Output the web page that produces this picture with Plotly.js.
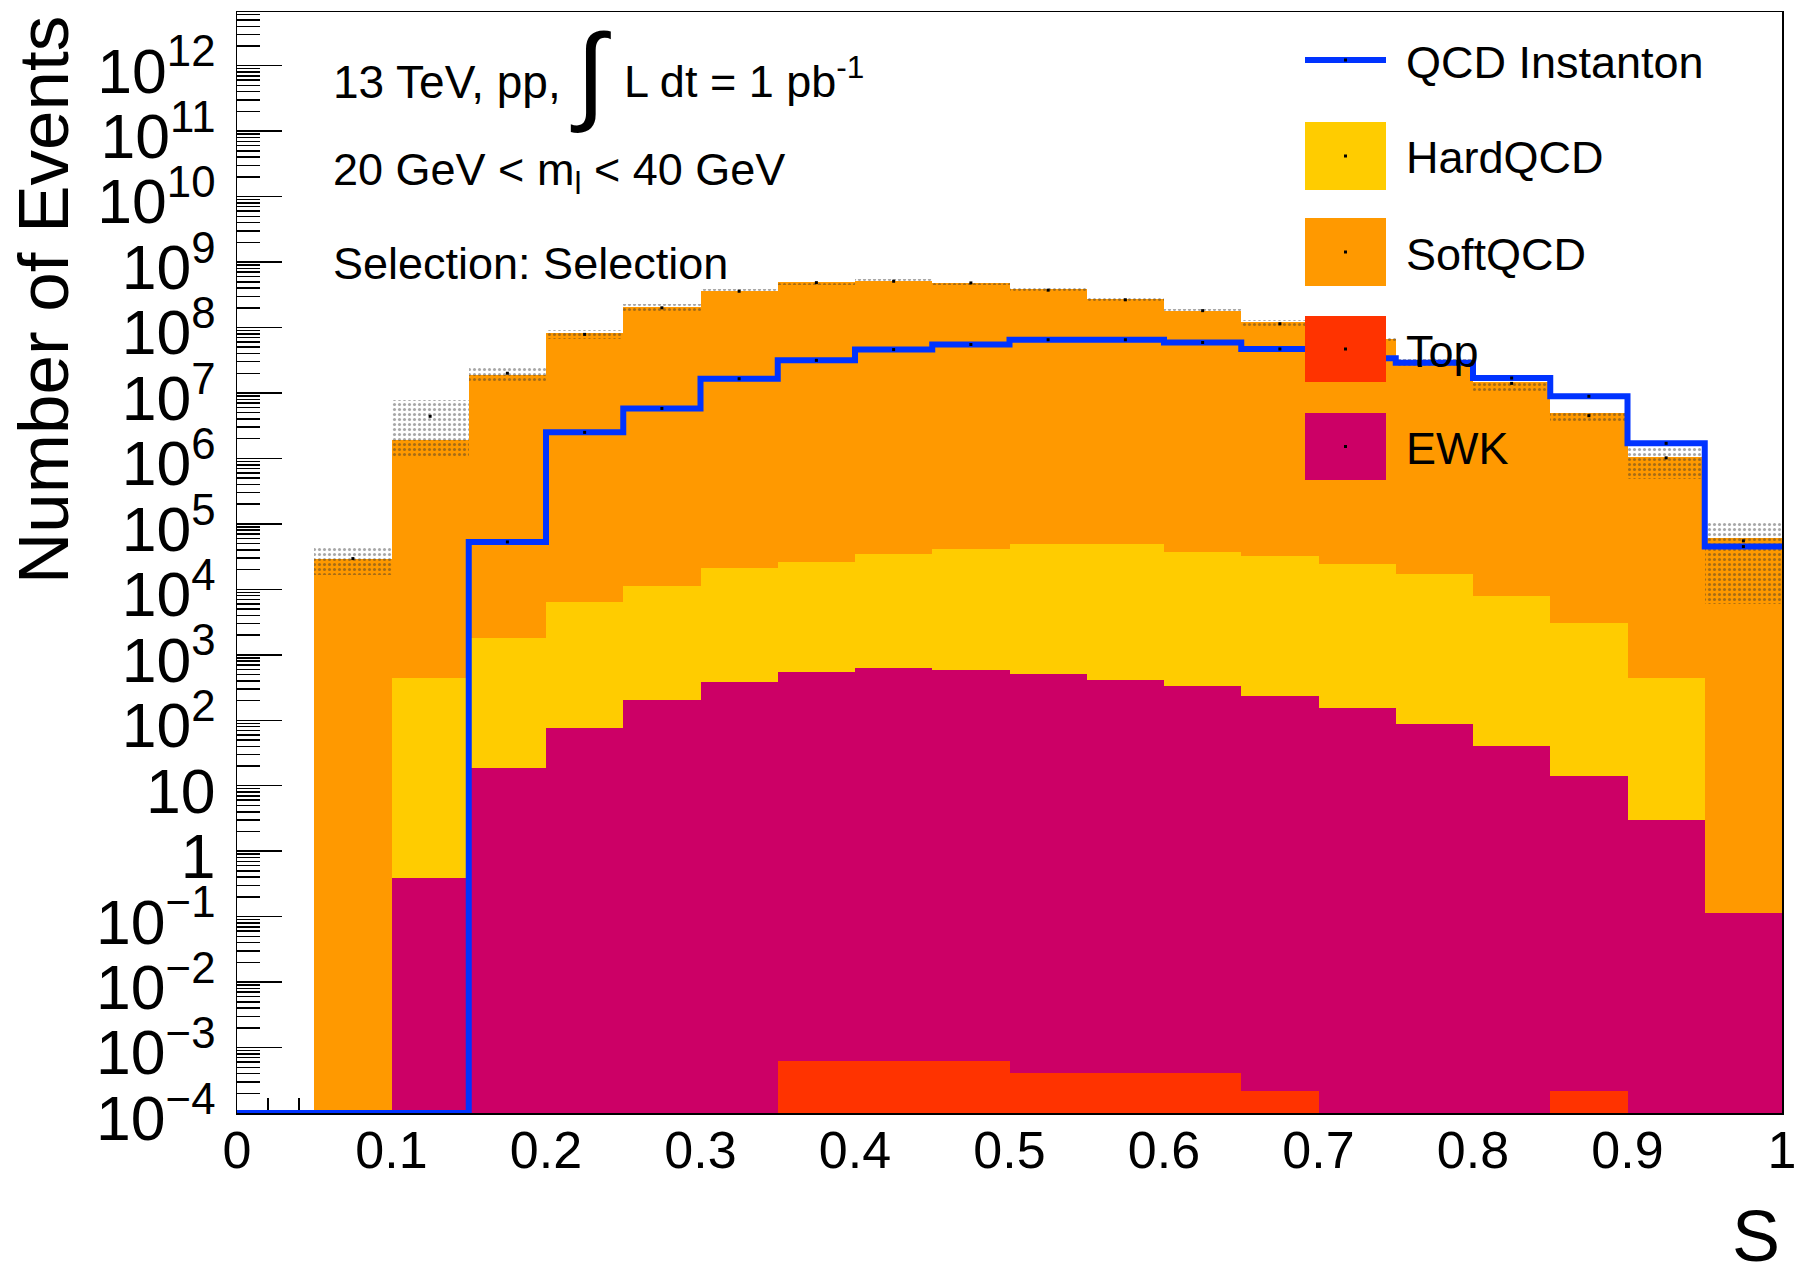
<!DOCTYPE html>
<html>
<head>
<meta charset="utf-8">
<script src="https://cdn.plot.ly/plotly-3.0.1.min.js"></script>
<style>
html,body{margin:0;padding:0;background:#ffffff;}
#chart{width:1796px;height:1267px;}
</style>
</head>
<body>
<div id="chart"></div>
<script>
// ---------------- data ----------------
const binEdges = [0, 0.05, 0.1, 0.15, 0.2, 0.25, 0.3, 0.35, 0.4, 0.45, 0.5,
                  0.55, 0.6, 0.65, 0.7, 0.75, 0.8, 0.85, 0.9, 0.95, 1.0];

const softQCD = [0, 2.9e4, 1.9e6, 1.9e7, 8.3e7, 2.07e8, 3.65e8, 4.9e8, 5.1e8, 4.8e8,
                 3.83e8, 2.7e8, 1.8e8, 1.2e8, 6.7e7, 2.8e7, 1.45e7, 5.0e6, 1.06e6, 6.0e4];

const hardQCD = [0, 0, 437, 1770, 6230, 10900, 20600, 25500, 34400, 41400,
                 48500, 48600, 36500, 31700, 23900, 16800, 7760, 3090, 434, 0];

const ewk = [0, 0, 0.385, 18.4, 75, 202, 380, 540, 621, 586,
             506, 408, 333, 232, 152, 87, 40, 13.9, 2.96, 0.115];

const topQ = [0, 0, 0, 0, 0, 0, 0, 6.3e-4, 6.3e-4, 6.3e-4,
              4.1e-4, 4.1e-4, 4.1e-4, 2.2e-4, 0, 0, 0, 2.2e-4, 0, 0];

const instanton = [0, 0, 0, 5.3e4, 2.5e6, 5.8e6, 1.65e7, 3.15e7, 4.6e7, 5.5e7,
                   6.5e7, 6.5e7, 5.9e7, 4.7e7, 3.4e7, 2.9e7, 1.69e7, 8.9e6, 1.7e6, 4.5e4];

const totalSum = [0, 2.95e4, 4.4e6, 2.0e7, 7.85e7, 2.0e8, 3.58e8, 4.85e8, 5.09e8, 4.8e8,
                  3.72e8, 2.65e8, 1.81e8, 1.14e8, 6.4e7, 2.9e7, 1.4e7, 4.5e6, 1.02e6, 5.5e4];

const totalErr = [0, 1.3e4, 3.4e6, 4.8e6, 1.25e7, 2.8e7, 2.6e7, 3.4e7, 3.6e7, 2.9e7,
                  2.8e7, 2.0e7, 1.3e7, 1.4e7, 7.0e6, 4.0e6, 3.7e6, 8.6e5, 5.3e5, 4.9e4];

const xTickLabels = ["0", "0.1", "0.2", "0.3", "0.4", "0.5", "0.6", "0.7", "0.8", "0.9", "1"];

// ---------------- styling ----------------
const FONT = 'Liberation Sans, Arial, Helvetica, sans-serif';
const C_SOFT = '#ff9900', C_HARD = '#ffcc00', C_TOP = '#ff3300', C_EWK = '#cc0066', C_INST = '#0033ff';
const Y_LOG_MIN = -4, Y_LOG_MAX = 12.82;

// plot-area geometry (px) used only for legend / text placement
const ML = 237, MR = 14, MT = 12, MB = 154, W = 1796, H = 1267;
const PW = W - ML - MR, PH = H - MT - MB;
const PX = x => (x - ML) / PW;
const PY = y => 1 - (y - MT) / PH;

// ---------------- derived ----------------
const nb = binEdges.length - 1;
const centers = [], widths = [];
for (let i = 0; i < nb; i++) { centers.push((binEdges[i] + binEdges[i+1]) / 2); widths.push(binEdges[i+1] - binEdges[i]); }
const cumTop = [], cumEwk = [], cumHard = [], cumSoft = [];
for (let i = 0; i < nb; i++) {
  const a = topQ[i], b = a + ewk[i], c = b + hardQCD[i], d = c + softQCD[i];
  cumTop.push(a > 0 ? a : null); cumEwk.push(b > 0 ? b : null);
  cumHard.push(c > 0 ? c : null); cumSoft.push(d > 0 ? d : null);
}
const bandBase = totalSum.map((v, i) => v > 0 ? v - totalErr[i] : null);
const bandH = totalSum.map((v, i) => v > 0 ? 2 * totalErr[i] : null);

const yFloor = Math.pow(10, Y_LOG_MIN);
const stepX = binEdges.slice();
const stepY = instanton.map(v => Math.max(v, yFloor)); stepY.push(stepY[stepY.length - 1]);

const barCommon = {type: 'bar', x: centers, width: widths, hoverinfo: 'skip', marker: {line: {width: 0}}};

const traces = [
  Object.assign({}, barCommon, {name: 'SoftQCD', y: cumSoft, marker: {color: C_SOFT, line: {width: 0}}}),
  Object.assign({}, barCommon, {name: 'HardQCD', y: cumHard, marker: {color: C_HARD, line: {width: 0}}}),
  Object.assign({}, barCommon, {name: 'EWK', y: cumEwk, marker: {color: C_EWK, line: {width: 0}}}),
  Object.assign({}, barCommon, {name: 'Top', y: cumTop, marker: {color: C_TOP, line: {width: 0}}}),
  Object.assign({}, barCommon, {name: 'stat. unc.', y: bandH, base: bandBase,
     marker: {color: 'rgba(0,0,0,0)', line: {width: 0},
              pattern: {shape: '.', fgcolor: 'rgba(50,50,50,0.85)', bgcolor: 'rgba(0,0,0,0)', size: 5, solidity: 0.3, fillmode: 'overlay'}}}),
  {type: 'scatter', mode: 'lines', name: 'QCD Instanton', x: stepX, y: stepY,
   line: {shape: 'hv', color: C_INST, width: 6}, cliponaxis: false, hoverinfo: 'skip'},
  {type: 'scatter', mode: 'markers', x: centers.filter((c, i) => totalSum[i] > 0), y: totalSum.filter(v => v > 0),
   marker: {symbol: 'square', size: 3, color: 'black'}, hoverinfo: 'skip'},
  {type: 'scatter', mode: 'markers', x: centers.filter((c, i) => instanton[i] > 0), y: instanton.filter(v => v > 0),
   marker: {symbol: 'square', size: 3, color: 'black'}, hoverinfo: 'skip'}
];

// ---------------- legend (drawn like the ROOT TLegend) ----------------
const legendEntries = [
  {label: 'QCD Instanton', kind: 'line', color: C_INST, yc: 60},
  {label: 'HardQCD', kind: 'box', color: C_HARD, y0: 122, y1: 190},
  {label: 'SoftQCD', kind: 'box', color: C_SOFT, y0: 218, y1: 286},
  {label: 'Top', kind: 'box', color: C_TOP, y0: 316, y1: 382},
  {label: 'EWK', kind: 'box', color: C_EWK, y0: 413, y1: 480}
];
const shapes = [], annotations = [];
const LX0 = 1305, LX1 = 1386, LTX = 1404;
legendEntries.forEach(e => {
  let yc;
  if (e.kind === 'line') {
    yc = e.yc;
    shapes.push({type: 'line', xref: 'paper', yref: 'paper', layer: 'above',
      x0: PX(LX0), x1: PX(LX1), y0: PY(yc), y1: PY(yc), line: {color: e.color, width: 6}});
  } else {
    yc = (e.y0 + e.y1) / 2;
    shapes.push({type: 'rect', xref: 'paper', yref: 'paper', layer: 'above',
      x0: PX(LX0), x1: PX(LX1), y0: PY(e.y1), y1: PY(e.y0), fillcolor: e.color, line: {width: 0}});
  }
  const cx = (LX0 + LX1) / 2;
  shapes.push({type: 'rect', xref: 'paper', yref: 'paper', layer: 'above',
    x0: PX(cx - 1.5), x1: PX(cx + 1.5), y0: PY(yc + 1.5), y1: PY(yc - 1.5), fillcolor: 'black', line: {width: 0}});
  annotations.push({text: e.label, xref: 'paper', yref: 'paper', x: PX(LTX), y: PY(yc + 2),
    xanchor: 'left', yanchor: 'middle', showarrow: false, font: {family: FONT, size: 45, color: 'black'}});
});

// ---------------- text ----------------
annotations.push(
  {text: '13 TeV, pp,', xref: 'paper', yref: 'paper', x: PX(331), y: PY(82), xanchor: 'left', yanchor: 'middle',
   showarrow: false, font: {family: FONT, size: 46, color: 'black'}},
  {text: '\u222B', xref: 'paper', yref: 'paper', x: PX(590), y: PY(72), xanchor: 'center', yanchor: 'middle',
   showarrow: false, font: {family: FONT, size: 108, color: 'black'}},
  {text: 'L dt = 1 pb<sup>-1</sup>', xref: 'paper', yref: 'paper', x: PX(622), y: PY(108.5), xanchor: 'left', yanchor: 'bottom',
   showarrow: false, font: {family: FONT, size: 45, color: 'black'}},
  {text: '20 GeV < m<sub>l</sub> < 40 GeV', xref: 'paper', yref: 'paper', x: PX(331), y: PY(142), xanchor: 'left', yanchor: 'top',
   showarrow: false, font: {family: FONT, size: 45, color: 'black'}},
  {text: 'Selection: Selection', xref: 'paper', yref: 'paper', x: PX(331), y: PY(263), xanchor: 'left', yanchor: 'middle',
   showarrow: false, font: {family: FONT, size: 45, color: 'black'}},
  {text: 'Number of Events', xref: 'paper', yref: 'paper', x: PX(43), y: PY(12 + 288), xanchor: 'center', yanchor: 'middle',
   textangle: -90, showarrow: false, font: {family: FONT, size: 71, color: 'black'}},
  {text: 'S', xref: 'paper', yref: 'paper', x: 1, y: PY(1236), xanchor: 'right', yanchor: 'middle',
   showarrow: false, font: {family: FONT, size: 72, color: 'black'}}
);

const layout = {
  width: W, height: H,
  margin: {l: ML, r: MR, t: MT, b: MB, pad: 0},
  paper_bgcolor: 'white', plot_bgcolor: 'white',
  barmode: 'overlay', bargap: 0,
  showlegend: false,
  font: {family: FONT, color: 'black'},
  xaxis: {
    range: [0, 1], tickmode: 'array', tickvals: xTickLabels.map(Number), ticktext: xTickLabels,
    ticks: 'inside', ticklen: 30, tickwidth: 1.5, tickcolor: 'black',
    showline: true, linecolor: 'black', linewidth: 1.5, mirror: true,
    showgrid: false, zeroline: false, tickfont: {family: FONT, size: 52, color: 'black'},
    ticklabeloverflow: 'allow', ticklabelstandoff: -9,
    minor: {dtick: 0.02, tick0: 0, ticks: 'inside', ticklen: 15, tickwidth: 1.5, tickcolor: 'black', showgrid: false},
    layer: 'below traces'
  },
  yaxis: {
    type: 'log', range: [Y_LOG_MIN, Y_LOG_MAX], dtick: 1, exponentformat: 'power',
    ticks: 'inside', ticklen: 45, tickwidth: 1.5, tickcolor: 'black',
    showline: true, linecolor: 'black', linewidth: 1.5, mirror: true,
    showgrid: false, zeroline: false, tickfont: {family: FONT, size: 50, color: 'black'},
    ticklabelstandoff: 10, ticklabelshift: 5, ticklabeloverflow: 'allow',
    minor: {dtick: 'D1', ticks: 'inside', ticklen: 23, tickwidth: 1.5, tickcolor: 'black', showgrid: false},
    layer: 'below traces'
  },
  shapes: shapes,
  annotations: annotations
};

Plotly.newPlot('chart', traces, layout, {displayModeBar: false, staticPlot: true});
</script>
</body>
</html>
